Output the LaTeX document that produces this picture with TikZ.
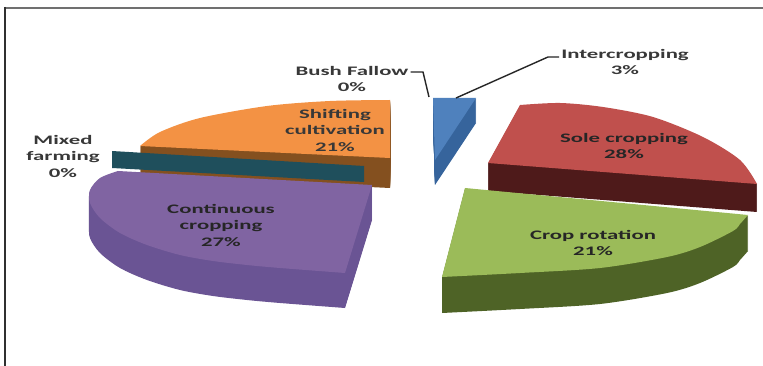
\documentclass[tikz,border=0pt]{standalone}
\usepackage{fontspec}
\newfontfamily\lblfont{Carlito}[FakeStretch=1.75]
\definecolor{framegray}{HTML}{707070}
\definecolor{framedark}{HTML}{303030}
\definecolor{bluetop}{HTML}{4F81BD}
\definecolor{blueside}{HTML}{36649C}
\definecolor{redtop}{HTML}{C0504D}
\definecolor{redside}{HTML}{4E1A1A}
\definecolor{greentop}{HTML}{9BBB59}
\definecolor{greenside}{HTML}{4E6326}
\definecolor{purpletop}{HTML}{8064A2}
\definecolor{purpleside}{HTML}{6A5494}
\definecolor{orangetop}{HTML}{F39244}
\definecolor{orangeside}{HTML}{84501F}
\definecolor{tealband}{HTML}{1F4F5C}
\definecolor{lbltxt}{HTML}{383838}
\newcommand\pieslice[4]{%
  \foreach \dy in {1,...,#3}{\fill[#2,yshift=-\dy pt] #4;}
  \fill[#1] #4;}
\begin{document}
\begin{tikzpicture}[x=1pt,y=-1pt,
  lbl/.style={font=\lblfont\bfseries\fontsize{13}{16.5}\selectfont, align=center, inner sep=0pt, text=lbltxt},
  leader/.style={draw=black!85, line width=1.4pt},
]
\useasboundingbox (0,0) rectangle (763,366);
\fill[white] (0,0) rectangle (763,366);
% frame
\draw[framegray, line width=2pt] (5,8) -- (763,8);
\draw[framedark, line width=1.5pt] (5,7) -- (5,366);

% Shifting cultivation (orange)
\pieslice{orangetop}{orangeside}{30}{(390,158) -- plot[smooth] coordinates {(390,100) (330,101) (267,106) (200,118) (160,132) (140,146)} -- cycle}
% Mixed farming (teal sliver)
\fill[tealband] (112,151) -- (364,166) -- (364,182) -- (112,168) -- cycle;
% Intercropping (blue)
\pieslice{bluetop}{blueside}{25}{(435,160) -- (433,98) -- (476,98) -- cycle}
% Sole cropping (red)
\pieslice{redtop}{redside}{28}{(488,163) -- plot[smooth] coordinates {(520,105) (560,103) (603,107) (653,117) (703,137) (740,160) (757,184)} -- cycle}
% Continuous cropping (purple)
\pieslice{purpletop}{purpleside}{35}{(372,185) -- plot[smooth] coordinates {(118,171) (100,178) (90,190) (90,203) (100,218) (120,233) (147,245) (180,255) (213,261) (247,265) (280,268) (345,273)} -- cycle}
% Crop rotation (green)
\pieslice{greentop}{greenside}{36}{(465,188) -- plot[smooth] coordinates {(748,215) (740,224) (733,231) (700,247) (667,257) (600,268) (520,273) (442,277)} -- cycle}

% labels
\node[lbl] (ic) at (625,62) {Intercropping\\3\%};
\node[lbl] (bf) at (352,79) {Bush Fallow\\0\%};
\node[lbl] (sc) at (335,130) {Shifting\\cultivation\\21\%};
\node[lbl] (mf) at (63,156) {Mixed\\farming\\0\%};
\node[lbl, text=black!85] (cc) at (221,225) {Continuous\\cropping\\27\%};
\node[lbl, text=black!85] (so) at (624,146) {Sole cropping\\28\%};
\node[lbl, text=black!85] (cr) at (593,243) {Crop rotation\\21\%};

% leader lines
\coordinate (bfBend) at (423,72);
\coordinate (bfEnd) at (429,97);
\draw[leader] ([xshift=2pt]bf.east |- bfBend) -- (bfBend) -- (bfEnd);
\coordinate (icEnd) at (456,98);
\coordinate (icBend) at (548,57);
\draw[leader] (icEnd) -- (icBend) -- ([xshift=-2pt]ic.west |- icBend);
\end{tikzpicture}
\end{document}
